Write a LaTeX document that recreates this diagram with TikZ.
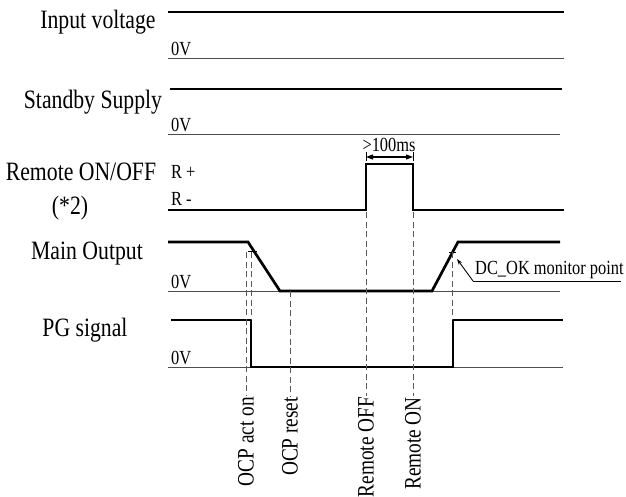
\documentclass[tikz,border=0pt]{standalone}
\usepackage{fontspec}
\setmainfont{Liberation Serif}
\newfontfamily\tnr[FakeStretch=0.82]{Liberation Serif}
\usetikzlibrary{arrows.meta}
\begin{document}
\begin{tikzpicture}[x=1pt,y=-1pt,
  sig/.style={line width=2.7pt},
  thinline/.style={line width=0.9pt, black!70},
  guide/.style={dash pattern=on 6pt off 3.5pt, line width=0.8pt, black!65},
  bigl/.style={font=\tnr\fontsize{26.5}{28}\selectfont, inner sep=0pt},
  sml/.style={font=\tnr\fontsize{20}{22}\selectfont, inner sep=1pt},
  vl/.style={font=\tnr\fontsize{23.5}{25}\selectfont, rotate=90, anchor=east, inner sep=1pt},
  tick/.style={line width=0.8pt}]
\useasboundingbox (0,0) rectangle (626,497);

% ---------- Input voltage ----------
\node[bigl] (tin) at (98,22) {Input voltage};
\coordinate (i1) at (168,12); \coordinate (i2) at (564,12);
\coordinate (i3) at (168,58); \coordinate (i4) at (564,58);
\draw[sig] (i1) -- (i2);
\draw[thinline] (i3) -- (i4);
\node[sml, anchor=south west] (z1) at (170,57) {0V};

% ---------- Standby Supply ----------
\node[bigl] (tsb) at (93,102) {Standby Supply};
\coordinate (s1) at (170,89); \coordinate (s2) at (562,89);
\coordinate (s3) at (168,134); \coordinate (s4) at (560,134);
\draw[sig] (s1) -- (s2);
\draw[thinline] (s3) -- (s4);
\node[sml, anchor=south west] (z2) at (170,133) {0V};

% ---------- Remote ON/OFF ----------
\node[bigl] (trm) at (81,172) {Remote ON/OFF};
\node[bigl] (trm2) at (70,208) {(*2)};
\node[sml, anchor=west] (rp) at (170,172) {R +};
\node[sml, anchor=west] (rm) at (170,199) {R -};
\coordinate (r1) at (168,210); \coordinate (r2) at (366,210);
\coordinate (r3) at (366,164); \coordinate (r4) at (413,164);
\coordinate (r5) at (413,210); \coordinate (r6) at (564,210);
\draw[sig] (r1) -- (r2) -- (r3) -- (r4) -- (r5) -- (r6);
% >100ms
\coordinate (ta1) at (366,152); \coordinate (ta2) at (366,161);
\coordinate (tb1) at (413,152); \coordinate (tb2) at (413,161);
\coordinate (aa) at (366,157); \coordinate (ab) at (413,157);
\draw[tick] (ta1) -- (ta2);
\draw[tick] (tb1) -- (tb2);
\draw[line width=1.1pt, {Triangle[length=7pt,width=5pt]}-{Triangle[length=7pt,width=5pt]}] (aa) -- (ab);
\node[sml] (ms) at (389,145) {>100ms};

% ---------- Main Output ----------
\node[bigl] (tmo) at (87,254) {Main Output};
\coordinate (m1) at (168,242); \coordinate (m2) at (248,242);
\coordinate (m3) at (280,291); \coordinate (m4) at (432,291);
\coordinate (m5) at (458,242); \coordinate (m6) at (560,242);
\coordinate (m7) at (168,291); \coordinate (m8) at (560,291);
\draw[thinline] (m7) -- (m8);
\draw[sig] (m1) -- (m2) -- (m3) -- (m4) -- (m5) -- (m6);
\node[sml, anchor=south west] (z3) at (170,290) {0V};
\coordinate (k1) at (248,251); \coordinate (k2) at (257,251);
\coordinate (k3) at (449,252); \coordinate (k4) at (456,252);
\draw[tick] (k1) -- (k2);
\draw[tick] (k3) -- (k4);

% ---------- PG signal ----------
\node[bigl] (tpg) at (85,330) {PG signal};
\coordinate (p1) at (171,320); \coordinate (p2) at (251,320);
\coordinate (p3) at (251,367); \coordinate (p4) at (453,367);
\coordinate (p5) at (453,320); \coordinate (p6) at (563,320);
\coordinate (p7) at (168,367); \coordinate (p8) at (563,367);
\draw[thinline] (p7) -- (p8);
\draw[sig] (p1) -- (p2) -- (p3) -- (p4) -- (p5) -- (p6);
\node[sml, anchor=south west] (z4) at (170,366) {0V};

% ---------- DC_OK ----------
\node[sml, anchor=south west, inner sep=2pt] (dc) at (473,281) {DC\_OK monitor point};
\coordinate (dcu) at (621,281);
\coordinate (dct) at (457,259);
\draw[thinline, black] (dc.south west) -- (dcu);
\draw[thinline, black, -{Stealth[length=6pt,width=4pt]}] (dc.south west) -- (dct);

% ---------- Guide lines ----------
\coordinate (g1t) at (246,252); \coordinate (g1b) at (246,396);
\coordinate (g2t) at (251,252); \coordinate (g2b) at (251,320);
\coordinate (g3t) at (290,291); \coordinate (g3b) at (290,396);
\coordinate (g4t) at (366,212); \coordinate (g4b) at (366,396);
\coordinate (g5t) at (413,212); \coordinate (g5b) at (413,396);
\coordinate (g6t) at (452,252); \coordinate (g6b) at (452,320);
\draw[guide] (g1t) -- (g1b);
\draw[guide] (g2t) -- (g2b);
\draw[guide] (g3t) -- (g3b);
\draw[guide] (g4t) -- (g4b);
\draw[guide] (g5t) -- (g5b);
\draw[guide] (g6t) -- (g6b);
\node[vl] (l1) at (g1b) {OCP act on};
\node[vl] (l2) at (g3b) {OCP reset};
\node[vl] (l3) at (g4b) {Remote OFF};
\node[vl] (l4) at (g5b) {Remote ON};
\end{tikzpicture}
\end{document}
